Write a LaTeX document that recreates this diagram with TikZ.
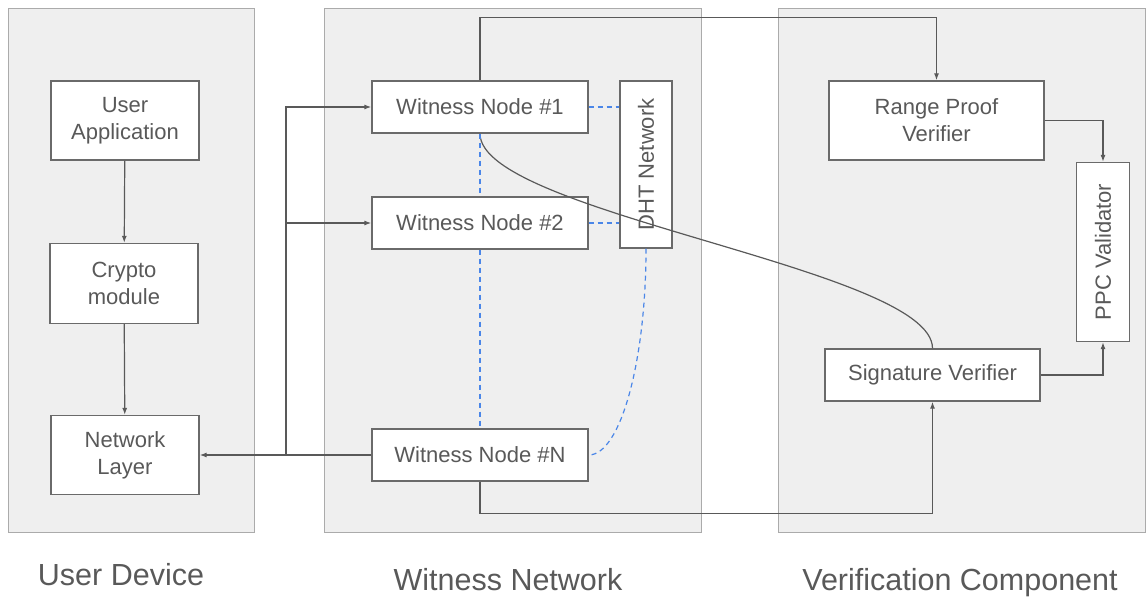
\documentclass[tikz,border=0pt]{standalone}
\usepackage{fontspec}
\setmainfont{Liberation Sans}
\usetikzlibrary{arrows.meta}
\definecolor{panelfill}{HTML}{EFEFEF}
\definecolor{panelline}{HTML}{ABABAB}
\definecolor{boxline}{HTML}{6A6A6A}
\definecolor{inkgray}{HTML}{595959}
\definecolor{dhtblue}{HTML}{4A86E8}
\tikzset{>={Latex[length=7pt,width=5pt]}}
\tikzset{
	panel/.style={draw=panelline, fill=panelfill, line width=1pt},
	blk/.style={draw=boxline, fill=white, line width=1.3pt, text=inkgray, font=\fontsize{22}{27}\selectfont, align=center, inner sep=0pt},
	caption/.style={text=inkgray, font=\fontsize{30.5}{36}\selectfont, anchor=base},
	flow/.style={draw=inkgray, line width=1.2pt},
	gossip/.style={draw=dhtblue, line width=1.2pt, dash pattern=on 5pt off 4pt},
}

\begin{document}
\begin{tikzpicture}[x=1pt, y=-1pt]

	\useasboundingbox (0,0) rectangle (1146,599);

	% Panels

	\draw[panel] (8,9) rectangle (254,532);
	\draw[panel] (324,9) rectangle (701,532);
	\draw[panel] (778,9) rectangle (1145,532);

	\node[caption](userdev) at (121,585) {User Device};
	\node[caption](witnet) at (508,590) {Witness Network};
	\node[caption](vercomp) at (960,590) {Verification Component};

	% User device

	\node[blk, minimum width=148pt, minimum height=79pt](uapp) at (125,120.5) {User\\Application};

	\node[blk, minimum width=148pt, minimum height=80pt](crypto) at (124,283.5) {Crypto\\module};

	\node[blk, minimum width=148pt, minimum height=79pt](netl) at (125,455) {Network\\Layer};

	% Witness network

	\node[blk, minimum width=216pt, minimum height=52pt](w1) at (480,107) {Witness Node \#1};

	\node[blk, minimum width=216pt, minimum height=52pt](w2) at (480,223) {Witness Node \#2};

	\node[blk, minimum width=216pt, minimum height=52pt](wN) at (480,455) {Witness Node \#N};

	\node[blk, rotate=90, minimum width=167pt, minimum height=52pt](dht) at (646,164.5) {DHT Network};

	% Verification component

	\node[blk, minimum width=215pt, minimum height=79pt](rpv) at (936.5,120.5) {Range Proof\\Verifier};

	\node[blk, rotate=90, minimum width=179pt, minimum height=53pt](ppc) at (1103,252) {PPC Validator};

	\node[blk, minimum width=215pt, minimum height=52pt](sigv) at (932.5,375) {Signature Verifier};

	\coordinate (fork) at (286,455);

	% Arrows

	\draw[flow, ->] (uapp) -- (crypto);
	\draw[flow, ->] (crypto) -- (netl);

	\draw[flow, ->] (wN.west) -- (netl.east);
	\draw[flow, ->] (fork) |- (w1.west);
	\draw[flow, ->] (fork |- w2.west) -- (w2.west);

	\draw[flow, ->] (w1.north) -- ++(0,-63) -| (rpv.north);
	\draw[flow, ->] (wN.south) -- ++(0,32) -| (sigv.south);
	\draw[flow] (w1.south) .. controls +(0,80) and +(0,-80) .. (sigv.north);

	\draw[flow, ->] (rpv.east) -| (ppc.east);
	\draw[flow, ->] (sigv.east) -| (ppc.west);

	% DHT links

	\draw[gossip] (w1.east) -- (w1.east -| dht.north);
	\draw[gossip] (w2.east) -- (w2.east -| dht.north);
	\draw[gossip] (w1.south) -- (w2.north);
	\draw[gossip] (w2.south) -- (wN.north);
	\draw[gossip] (dht.west) .. controls +(0,112) and +(32,0) .. (wN.east);

\end{tikzpicture}
\end{document}
